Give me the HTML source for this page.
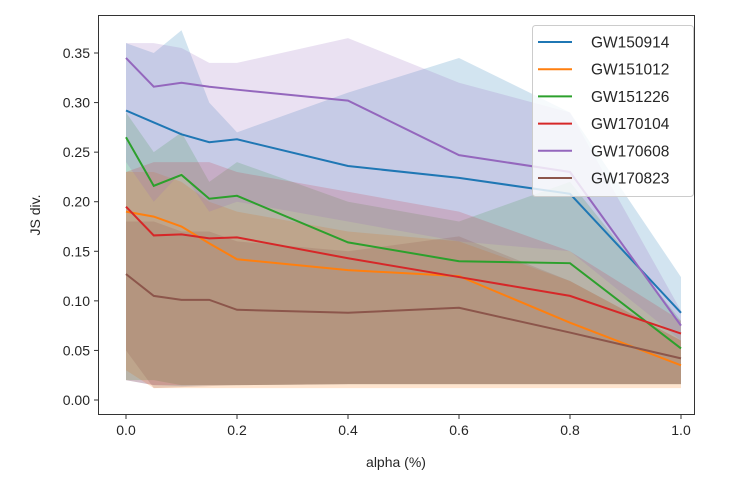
<!DOCTYPE html>
<html><head><meta charset="utf-8"><style>
body{margin:0;background:#fff;font-family:"Liberation Sans","DejaVu Sans",sans-serif}
svg text{font-family:"Liberation Sans","DejaVu Sans",sans-serif;fill:#262626}
</style></head><body>
<svg id="chart" width="740" height="494" xmlns="http://www.w3.org/2000/svg"></svg>
<script>
const alphas=[0,0.05,0.1,0.15,0.2,0.4,0.6,0.8,1.0];
const names=["GW150914","GW151012","GW151226","GW170104","GW170608","GW170823"];
const colors=["#1f77b4","#ff7f0e","#2ca02c","#d62728","#9467bd","#8c564b"];
const mGW150914=[0.292,0.280,0.268,0.260,0.263,0.236,0.224,0.208,0.088];
const mGW151012=[0.190,0.185,0.175,0.158,0.142,0.131,0.125,0.078,0.035];
const mGW151226=[0.265,0.216,0.227,0.203,0.206,0.159,0.140,0.138,0.052];
const mGW170104=[0.195,0.166,0.167,0.163,0.164,0.143,0.124,0.105,0.067];
const mGW170608=[0.345,0.316,0.320,0.316,0.313,0.302,0.247,0.230,0.075];
const mGW170823=[0.127,0.105,0.101,0.101,0.091,0.088,0.093,0.068,0.042];
const uGW150914=[0.36,0.35,0.373,0.30,0.27,0.31,0.345,0.29,0.124];
const lGW150914=[0.02,0.015,0.014,0.015,0.015,0.016,0.016,0.016,0.016];
const uGW151012=[0.23,0.23,0.22,0.20,0.19,0.17,0.16,0.12,0.06];
const lGW151012=[0.03,0.012,0.012,0.012,0.012,0.012,0.012,0.012,0.012];
const uGW151226=[0.29,0.25,0.27,0.22,0.24,0.20,0.18,0.22,0.08];
const lGW151226=[0.02,0.02,0.015,0.015,0.015,0.016,0.016,0.016,0.016];
const uGW170104=[0.23,0.24,0.24,0.24,0.23,0.21,0.19,0.15,0.08];
const lGW170104=[0.02,0.015,0.015,0.015,0.015,0.016,0.016,0.016,0.016];
const uGW170608=[0.36,0.36,0.355,0.34,0.34,0.365,0.32,0.29,0.09];
const lGW170608=[0.24,0.20,0.23,0.19,0.20,0.18,0.16,0.15,0.06];
const uGW170823=[0.18,0.18,0.17,0.17,0.16,0.15,0.165,0.12,0.06];
const lGW170823=[0.05,0.012,0.013,0.014,0.015,0.016,0.016,0.016,0.016];
const xTicks=[0,0.2,0.4,0.6,0.8,1.0];
const xTickLabels=["0.0","0.2","0.4","0.6","0.8","1.0"];
const yTicks=[0,0.05,0.1,0.15,0.2,0.25,0.3,0.35];
const yTickLabels=["0.00","0.05","0.10","0.15","0.20","0.25","0.30","0.35"];
const means=[mGW150914,mGW151012,mGW151226,mGW170104,mGW170608,mGW170823];
const uppers=[uGW150914,uGW151012,uGW151226,uGW170104,uGW170608,uGW170823];
const lowers=[lGW150914,lGW151012,lGW151226,lGW170104,lGW170608,lGW170823];

const NS="http://www.w3.org/2000/svg";
const svg=document.getElementById('chart');
const X=a=>126+555*a;
const Y=v=>400-v*991.4;
function mk(t,attrs,parent){const e=document.createElementNS(NS,t);for(const k in attrs)e.setAttribute(k,attrs[k]);(parent||svg).appendChild(e);return e;}

for(let s=0;s<names.length;s++){
  let pts=alphas.map((a,i)=>X(a)+","+Y(uppers[s][i]));
  pts=pts.concat(alphas.map((a,i)=>X(a)+","+Y(lowers[s][i])).reverse());
  const p=mk('polygon',{points:pts.join(' '),fill:colors[s],'fill-opacity':0.2});
  
  
}
for(let s=0;s<names.length;s++){
  const l=mk('polyline',{points:alphas.map((a,i)=>X(a)+","+Y(means[s][i])).join(' '),fill:'none',stroke:colors[s],'stroke-width':2});
  
  
}
const frame=mk('rect',{x:98.5,y:15.5,width:596,height:399,fill:'none',stroke:'#333','stroke-width':1});


xTicks.forEach((t,i)=>{
  const tk=mk('line',{x1:X(t),x2:X(t),y1:415,y2:419,stroke:'#333'});
  
  
  const tx=mk('text',{x:X(t),y:435,'text-anchor':'middle','font-size':14});
  tx.textContent=xTickLabels[i];
  
  
});
yTicks.forEach((t,i)=>{
  const tk=mk('line',{x1:94,x2:98,y1:Y(t),y2:Y(t),stroke:'#333'});
  
  
  const tx=mk('text',{x:90,y:Y(t)+5,'text-anchor':'end','font-size':14});
  tx.textContent=yTickLabels[i];
  
  
});
const xt=mk('text',{x:396,y:467,'text-anchor':'middle','font-size':14});
xt.textContent='alpha (%)';


const yt=mk('text',{x:0,y:0,'text-anchor':'middle','font-size':14,transform:'translate(40,215) rotate(-90)'});
yt.textContent='JS div.';


const lg=mk('g',{});


mk('rect',{x:532.5,y:25.5,width:161,height:171,rx:3,fill:'#fff','fill-opacity':0.8,stroke:'#ccc'},lg);
names.forEach((n,i)=>{
  const yy=42+i*27.2;
  const e=mk('g',{},lg);
  
  
  mk('line',{x1:538,x2:572,y1:yy,y2:yy,stroke:colors[i],'stroke-width':2},e);
  const t=mk('text',{x:591,y:yy+5.5,'font-size':15.5},e);
  t.textContent=n;
});
</script>
</body></html>
